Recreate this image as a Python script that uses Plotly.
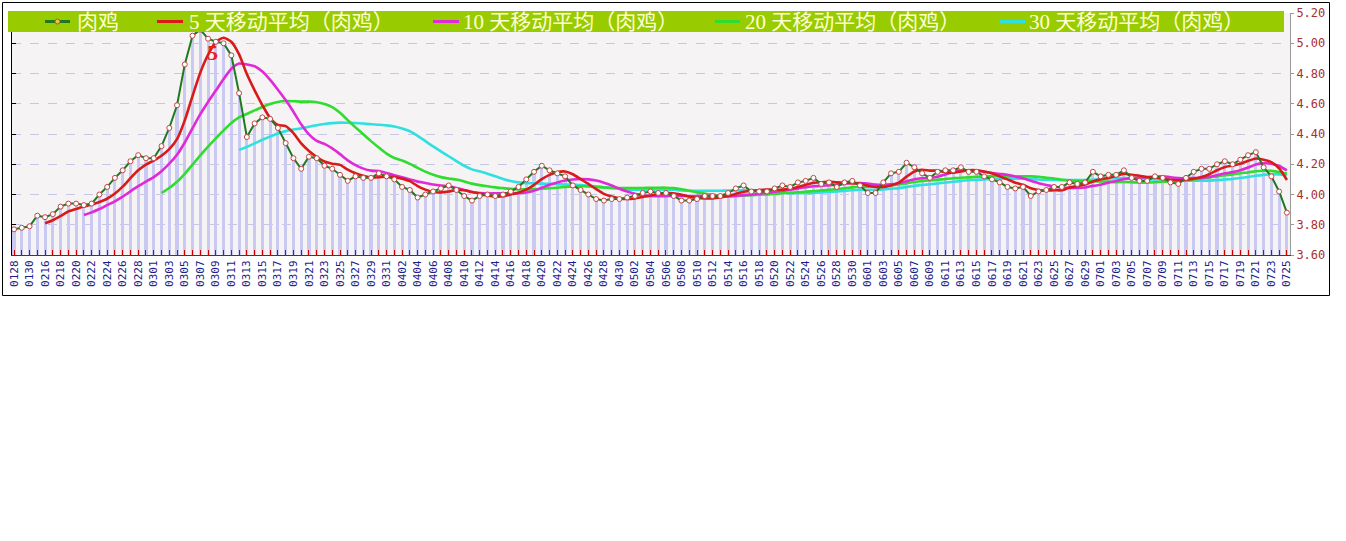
import plotly.graph_objects as go

# ---------------- data ----------------
months_days = [(2, 16, 29), (3, 1, 31), (4, 1, 30), (5, 1, 31), (6, 1, 30), (7, 1, 25)]
dates = ["0128", "0129", "0130", "0131"]
for m, d0, d1 in months_days:
    dates += [f"{m:02d}{d:02d}" for d in range(d0, d1 + 1)]
tick_labels = [d if i % 2 == 0 else "" for i, d in enumerate(dates)]

price = [3.77, 3.78, 3.79, 3.86, 3.85, 3.87, 3.92, 3.94, 3.94, 3.93,
         3.94, 4.00, 4.05, 4.11, 4.16, 4.22, 4.26, 4.24, 4.24, 4.32,
         4.44, 4.59, 4.86, 5.05, 5.09, 5.03, 5.01, 5.00, 4.92, 4.67,
         4.38, 4.47, 4.51, 4.50, 4.44, 4.34, 4.24, 4.17, 4.25, 4.24,
         4.19, 4.17, 4.13, 4.09, 4.12, 4.11, 4.11, 4.14, 4.12, 4.10,
         4.05, 4.03, 3.98, 4.00, 4.02, 4.04, 4.06, 4.03, 3.99, 3.96,
         3.99, 4.00, 3.99, 4.00, 4.02, 4.05, 4.10, 4.15, 4.19, 4.16,
         4.14, 4.12, 4.06, 4.03, 4.00, 3.97, 3.96, 3.97, 3.97, 3.98,
         3.99, 4.01, 4.02, 4.01, 4.01, 3.99, 3.96, 3.96, 3.97, 3.99,
         3.99, 3.99, 4.01, 4.04, 4.06, 4.02, 4.02, 4.02, 4.04, 4.06,
         4.05, 4.08, 4.09, 4.11, 4.07, 4.08, 4.05, 4.08, 4.09, 4.06,
         4.01, 4.01, 4.08, 4.14, 4.15, 4.21, 4.18, 4.14, 4.11, 4.15,
         4.16, 4.16, 4.18, 4.15, 4.15, 4.12, 4.10, 4.08, 4.05, 4.04,
         4.05, 3.99, 4.02, 4.03, 4.05, 4.05, 4.08, 4.07, 4.08, 4.15,
         4.12, 4.13, 4.13, 4.16, 4.11, 4.09, 4.09, 4.12, 4.11, 4.08,
         4.07, 4.11, 4.15, 4.17, 4.17, 4.20, 4.22, 4.20, 4.23, 4.26,
         4.28, 4.18, 4.12, 4.02, 3.88]

ma5 = [None] * 4 + [
    3.810, 3.830, 3.858, 3.888, 3.904, 3.920, 3.934, 3.950, 3.972, 4.006,
    4.052, 4.108, 4.160, 4.198, 4.224, 4.256, 4.300, 4.366, 4.490, 4.652,
    4.806, 4.924, 5.008, 5.036, 5.010, 4.926, 4.796, 4.688, 4.590, 4.506,
    4.460, 4.452, 4.406, 4.338, 4.288, 4.248, 4.218, 4.204, 4.196, 4.164,
    4.140, 4.124, 4.112, 4.114, 4.120, 4.116, 4.104, 4.088, 4.056, 4.032,
    4.016, 4.014, 4.020, 4.030, 4.028, 4.016, 4.006, 3.994, 3.986, 3.988,
    4.000, 4.012, 4.032, 4.064, 4.102, 4.130, 4.148, 4.152, 4.134, 4.102,
    4.070, 4.036, 4.004, 3.986, 3.974, 3.970, 3.974, 3.984, 3.994, 4.002,
    4.008, 4.008, 3.998, 3.986, 3.978, 3.974, 3.974, 3.980, 3.990, 4.004,
    4.018, 4.024, 4.030, 4.032, 4.032, 4.032, 4.038, 4.050, 4.064, 4.078,
    4.080, 4.086, 4.080, 4.078, 4.074, 4.072, 4.058, 4.050, 4.050, 4.060,
    4.078, 4.118, 4.152, 4.164, 4.158, 4.158, 4.148, 4.144, 4.152, 4.160,
    4.160, 4.152, 4.140, 4.120, 4.100, 4.078, 4.064, 4.042, 4.030, 4.026,
    4.028, 4.028, 4.046, 4.056, 4.066, 4.086, 4.100, 4.110, 4.122, 4.138,
    4.130, 4.124, 4.116, 4.114, 4.104, 4.098, 4.094, 4.098, 4.104, 4.116,
    4.134, 4.160, 4.182, 4.192, 4.204, 4.222, 4.238, 4.230, 4.214, 4.172,
    4.096]

ma10 = [None] * 9 + [
    3.865, 3.882, 3.904, 3.930, 3.955, 3.986, 4.021, 4.055, 4.085, 4.115,
    4.154, 4.204, 4.263, 4.344, 4.438, 4.531, 4.612, 4.687, 4.763, 4.831,
    4.866, 4.860, 4.848, 4.813, 4.758, 4.693, 4.624, 4.547, 4.464, 4.397,
    4.354, 4.335, 4.305, 4.267, 4.226, 4.194, 4.171, 4.158, 4.155, 4.142,
    4.128, 4.114, 4.100, 4.085, 4.076, 4.066, 4.059, 4.054, 4.043, 4.030,
    4.016, 4.010, 4.007, 4.008, 4.008, 4.008, 4.009, 4.013, 4.025, 4.045,
    4.065, 4.080, 4.092, 4.099, 4.102, 4.100, 4.092, 4.078, 4.060, 4.038,
    4.020, 4.005, 3.994, 3.990, 3.988, 3.989, 3.991, 3.991, 3.990, 3.990,
    3.991, 3.991, 3.989, 3.988, 3.991, 3.996, 3.999, 4.005, 4.011, 4.018,
    4.025, 4.031, 4.040, 4.048, 4.055, 4.056, 4.062, 4.065, 4.071, 4.076,
    4.076, 4.072, 4.065, 4.064, 4.067, 4.075, 4.088, 4.101, 4.107, 4.109,
    4.118, 4.133, 4.148, 4.158, 4.159, 4.159, 4.150, 4.142, 4.136, 4.130,
    4.119, 4.108, 4.091, 4.075, 4.063, 4.053, 4.046, 4.044, 4.043, 4.046,
    4.057, 4.064, 4.078, 4.089, 4.102, 4.108, 4.112, 4.113, 4.118, 4.121,
    4.114, 4.109, 4.107, 4.109, 4.110, 4.116, 4.127, 4.140, 4.148, 4.160,
    4.178, 4.199, 4.206, 4.203, 4.188, 4.159]

ma20 = [None] * 19 + [
    4.010, 4.043, 4.084, 4.137, 4.197, 4.259, 4.317, 4.371, 4.424, 4.473,
    4.510, 4.532, 4.556, 4.579, 4.598, 4.612, 4.618, 4.617, 4.614, 4.614,
    4.610, 4.598, 4.577, 4.540, 4.492, 4.444, 4.398, 4.353, 4.310, 4.270,
    4.241, 4.225, 4.203, 4.176, 4.151, 4.130, 4.115, 4.106, 4.099, 4.086,
    4.072, 4.062, 4.054, 4.047, 4.042, 4.037, 4.034, 4.034, 4.034, 4.038,
    4.041, 4.045, 4.050, 4.054, 4.055, 4.054, 4.051, 4.046, 4.043, 4.042,
    4.043, 4.043, 4.043, 4.045, 4.045, 4.045, 4.042, 4.035, 4.025, 4.014,
    4.006, 3.998, 3.992, 3.989, 3.990, 3.993, 3.995, 3.998, 4.001, 4.004,
    4.008, 4.011, 4.015, 4.018, 4.023, 4.026, 4.031, 4.035, 4.041, 4.047,
    4.051, 4.052, 4.053, 4.056, 4.061, 4.066, 4.075, 4.083, 4.089, 4.093,
    4.097, 4.103, 4.107, 4.111, 4.113, 4.117, 4.119, 4.122, 4.122, 4.120,
    4.119, 4.121, 4.120, 4.117, 4.111, 4.106, 4.098, 4.093, 4.090, 4.088,
    4.088, 4.086, 4.085, 4.082, 4.083, 4.081, 4.079, 4.079, 4.081, 4.084,
    4.086, 4.087, 4.093, 4.099, 4.106, 4.112, 4.120, 4.127, 4.133, 4.141,
    4.146, 4.154, 4.157, 4.156, 4.149, 4.138]

ma30 = [None] * 29 + [
    4.295, 4.315, 4.338, 4.362, 4.384, 4.403, 4.419, 4.430, 4.437, 4.448,
    4.458, 4.466, 4.472, 4.475, 4.474, 4.473, 4.469, 4.464, 4.461, 4.457,
    4.449, 4.436, 4.418, 4.388, 4.353, 4.318, 4.285, 4.253, 4.221, 4.190,
    4.166, 4.153, 4.137, 4.120, 4.103, 4.089, 4.080, 4.075, 4.074, 4.072,
    4.070, 4.068, 4.066, 4.064, 4.062, 4.058, 4.053, 4.048, 4.043, 4.038,
    4.034, 4.032, 4.031, 4.032, 4.033, 4.032, 4.031, 4.027, 4.025, 4.024,
    4.025, 4.025, 4.025, 4.026, 4.027, 4.028, 4.027, 4.025, 4.020, 4.015,
    4.012, 4.009, 4.008, 4.009, 4.011, 4.014, 4.017, 4.020, 4.024, 4.028,
    4.031, 4.031, 4.031, 4.033, 4.038, 4.042, 4.050, 4.057, 4.063, 4.068,
    4.073, 4.079, 4.084, 4.090, 4.094, 4.097, 4.100, 4.103, 4.105, 4.105,
    4.104, 4.104, 4.101, 4.099, 4.096, 4.096, 4.095, 4.096, 4.095, 4.095,
    4.098, 4.102, 4.106, 4.107, 4.108, 4.107, 4.103, 4.100, 4.099, 4.099,
    4.097, 4.094, 4.092, 4.091, 4.092, 4.092, 4.095, 4.099, 4.103, 4.109,
    4.116, 4.124, 4.130, 4.134, 4.133, 4.128]

y_ticks = [3.60, 3.80, 4.00, 4.20, 4.40, 4.60, 4.80, 5.00, 5.20]

series_names = ["肉鸡", "5 天移动平均（肉鸡）", "10 天移动平均（肉鸡）",
                "20 天移动平均（肉鸡）", "30 天移动平均（肉鸡）"]

# ---------------- layout geometry ----------------
W, H = 1346, 541
PL, PR, PT, PB = 12, 1290, 13, 255  # plot area, in page pixels


def px(xp):
    return (xp - PL) / (PR - PL)


def py(yp):
    return (PB - yp) / (PB - PT)


C_PRICE = "#1f7a1f"
C_MA5 = "#d91a1a"
C_MA10 = "#e02ad8"
C_MA20 = "#2fdc2f"
C_MA30 = "#2fe0e0"

fig = go.Figure()

fig.add_trace(go.Bar(
    x=dates, y=price, width=0.4, yaxis="y",
    marker=dict(color="#c9c9f2", line=dict(width=0)),
    showlegend=False, hoverinfo="skip", name="bar"))

for name, vals, color in [(series_names[4], ma30, C_MA30),
                          (series_names[3], ma20, C_MA20),
                          (series_names[2], ma10, C_MA10),
                          (series_names[1], ma5, C_MA5)]:
    fig.add_trace(go.Scatter(
        x=dates, y=vals, mode="lines", name=name, yaxis="y2",
        line=dict(color=color, width=2.6, shape="spline", smoothing=0.6),
        showlegend=False, connectgaps=False))

fig.add_trace(go.Scatter(
    x=dates, y=price, mode="lines+markers", name=series_names[0], yaxis="y2",
    line=dict(color=C_PRICE, width=2),
    marker=dict(symbol="circle", size=5, color="white",
                line=dict(color="#c04848", width=1)),
    showlegend=False))

shapes = []
annotations = []

# legend band
shapes.append(dict(type="rect", xref="paper", yref="paper",
                   x0=px(8), x1=px(1284), y0=py(32), y1=py(11),
                   fillcolor="#99cc00", line=dict(width=0), layer="above"))
legend_items = [
    (series_names[0], C_PRICE, 45, 70, 75),
    (series_names[1], C_MA5, 157, 183, 187),
    (series_names[2], C_MA10, 433, 459, 461),
    (series_names[3], C_MA20, 715, 740, 743),
    (series_names[4], C_MA30, 1000, 1025, 1027),
]
yc = py(21.5)
for name, color, lx0, lx1, tx in legend_items:
    shapes.append(dict(type="line", xref="paper", yref="paper",
                       x0=px(lx0), x1=px(lx1), y0=yc, y1=yc,
                       line=dict(color=color, width=3), layer="above"))
    annotations.append(dict(xref="paper", yref="paper", x=px(tx), y=yc,
                            text=name, showarrow=False, xanchor="left", yanchor="middle",
                            font=dict(family="Liberation Serif, Noto Sans CJK SC",
                                      size=21, color="#ffffd2")))
# marker on price legend sample
shapes.append(dict(type="circle", xref="paper", yref="paper",
                   x0=px(55), x1=px(60), y0=py(24), y1=py(19),
                   fillcolor="#f0c040", line=dict(color="#c04848", width=1), layer="above"))

# red "5" marker label near the peak
annotations.append(dict(xref="paper", yref="paper", x=px(212), y=py(52), text="<b>5</b>",
                        showarrow=False, xanchor="center", yanchor="middle",
                        font=dict(family="Liberation Serif", size=22, color="#e82020")))

# outer frame
shapes.append(dict(type="rect", xref="paper", yref="paper",
                   x0=px(2.5), x1=px(1329.5), y0=py(295.5), y1=py(2.5),
                   line=dict(color="black", width=1), fillcolor="rgba(0,0,0,0)", layer="above"))

fig.update_layout(
    width=W, height=H,
    margin=dict(l=PL, r=W - PR, t=PT, b=H - PB, pad=0),
    paper_bgcolor="white",
    plot_bgcolor="#f5f3f3",
    showlegend=False,
    hovermode=False,
    bargap=0,
    xaxis=dict(type="category", range=[-0.26, 164.4],
               tickmode="array", tickvals=dates, ticktext=tick_labels,
               tickangle=-90, ticks="inside", ticklen=5, tickcolor="#cc0000",
               tickfont=dict(family="DejaVu Sans Mono", size=11, color="#1c1c8a"),
               showline=True, linecolor="#cc0000", linewidth=1,
               showgrid=False, zeroline=False, automargin=False,
               ticklabeloverflow="allow"),
    yaxis=dict(range=[3.6, 5.2], tickmode="array", tickvals=y_ticks,
               side="left", showticklabels=False, ticks="inside", ticklen=4,
               tickcolor="black", showline=True, linecolor="black", linewidth=1,
               showgrid=True, gridcolor="#c6c6e6", griddash="dash", gridwidth=1,
               zeroline=False, automargin=False),
    yaxis2=dict(overlaying="y", side="right", range=[3.6, 5.2],
                tickmode="array", tickvals=y_ticks,
                ticktext=[f"{v:.2f}" for v in y_ticks],
                tickfont=dict(family="DejaVu Sans Mono", size=12, color="#aa3030"),
                ticks="outside", ticklen=3, tickcolor="#999999",
                showline=True, linecolor="#999999", linewidth=1,
                showgrid=False, zeroline=False, automargin=False,
                ticklabeloverflow="allow"),
    shapes=shapes,
    annotations=annotations,
)

# remove the default page margin so the figure sits at the window's top-left corner
fig.write_html("out.html",
               config={"displayModeBar": False, "staticPlot": True},
               post_script="document.body.style.margin='0';document.body.style.padding='0';"
                           "document.body.style.overflow='hidden';")
